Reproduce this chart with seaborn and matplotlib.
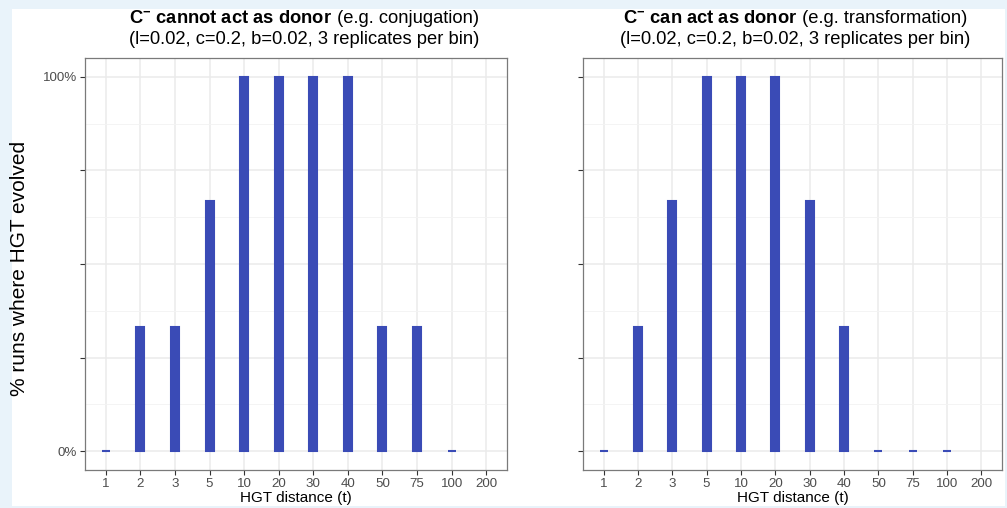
import matplotlib
matplotlib.use("Agg")
import matplotlib.pyplot as plt
from matplotlib.patches import Rectangle
from matplotlib.ticker import FixedLocator
import seaborn as sns
import pandas as pd

# HGT distance bins (t) shown on the x axis
distances = ["1", "2", "3", "5", "10", "20", "30", "40", "50", "75", "100", "200"]

# % of runs (3 replicates per bin) in which HGT evolved; bin 200 has no runs
conj_bins = ["1", "2", "3", "5", "10", "20", "30", "40", "50", "75", "100"]
conj_pct = [0, 33.3, 33.3, 66.7, 100, 100, 100, 100, 33.3, 33.3, 0]

trans_bins = ["1", "2", "3", "5", "10", "20", "30", "40", "50", "75", "100"]
trans_pct = [0, 33.3, 66.7, 100, 100, 100, 66.7, 33.3, 0, 0, 0]

panel_bold = [r"C$^{\mathbf{-}}$ cannot act as donor", r"C$^{\mathbf{-}}$ can act as donor"]
panel_rest = [" (e.g. conjugation)", " (e.g. transformation)"]
subtitle = "(l=0.02, c=0.2, b=0.02, 3 replicates per bin)"

BAR = "#3a4bb6"
W, H = 1007, 508

sns.set_theme(style="white")
plt.rcParams["font.family"] = ["Liberation Sans", "DejaVu Sans"]
plt.rcParams["mathtext.fontset"] = "custom"
plt.rcParams["mathtext.rm"] = "Liberation Sans"
plt.rcParams["mathtext.bf"] = "Liberation Sans:bold"
plt.rcParams["text.color"] = "black"

fig = plt.figure(figsize=(W / 100, H / 100), dpi=100)
fig.patch.set_facecolor("#e9f3fa")
fig.patches.append(Rectangle((12 / W, 1 - 506 / H), (1005 - 12) / W, (506 - 9) / H,
                             transform=fig.transFigure, facecolor="white",
                             edgecolor="none", zorder=-5))


def px_axes(x0, x1, y0, y1):
    return fig.add_axes([x0 / W, 1 - y1 / H, (x1 - x0) / W, (y1 - y0) / H])


panels = [
    (px_axes(85, 507, 58, 470), conj_bins, conj_pct, 304),
    (px_axes(583, 1002, 58, 470), trans_bins, trans_pct, 795),
]

for i, (ax, bins, pct, cx) in enumerate(panels):
    df = pd.DataFrame({"distance": bins, "pct": pct})
    sns.barplot(data=df, x="distance", y="pct", order=distances, ax=ax,
                color=BAR, saturation=1, width=0.23, edgecolor=BAR,
                linewidth=1.5, errorbar=None, zorder=3)
    ax.set_xlim(-0.6, len(distances) - 0.4)
    ax.set_ylim(-5, 105)
    ax.set_facecolor("white")

    # grid lines
    ax.set_yticks([0, 25, 50, 75, 100])
    ax.yaxis.set_minor_locator(FixedLocator([12.5, 37.5, 62.5, 87.5]))
    ax.grid(True, which="major", color="#ebebeb", linewidth=1.1, zorder=0)
    ax.grid(True, which="minor", axis="y", color="#f3f3f3", linewidth=0.6, zorder=0)
    ax.set_axisbelow(True)

    if i == 0:
        ax.set_yticklabels(["0%", "", "", "", "100%"])
    else:
        ax.set_yticklabels([])
    ax.tick_params(axis="both", which="major", length=3.5, width=0.8,
                   color="#333333", labelsize=9.6, labelcolor="#4d4d4d", pad=2,
                   left=True, bottom=True)
    ax.tick_params(axis="y", which="minor", length=0)
    for s in ax.spines.values():
        s.set_color("#7a7a7a")
        s.set_linewidth(0.9)
        s.set_visible(True)

    ax.set_xlabel("HGT distance (t)", fontsize=11, color="black", labelpad=1)
    ax.set_ylabel("")

    # two-part title: bold lead + regular remainder, centred together
    t1 = fig.text(0, 0, panel_bold[i], fontsize=13.2, fontweight="bold")
    t2 = fig.text(0, 0, panel_rest[i], fontsize=13.2)
    r = fig.canvas.get_renderer()
    w1 = t1.get_window_extent(r).width
    w2 = t2.get_window_extent(r).width
    left = cx - (w1 + w2) / 2
    t1.set_position((left / W, 1 - 23 / H))
    t2.set_position(((left + w1) / W, 1 - 23 / H))
    fig.text(cx / W, 1 - 40 / H, subtitle, fontsize=13.2, ha="center", va="center")

fig.text(20 / W, 1 - 268 / H, "% runs where HGT evolved", fontsize=15,
         rotation=90, ha="center", va="center")

fig.savefig("out.png", dpi=100, facecolor=fig.get_facecolor())
